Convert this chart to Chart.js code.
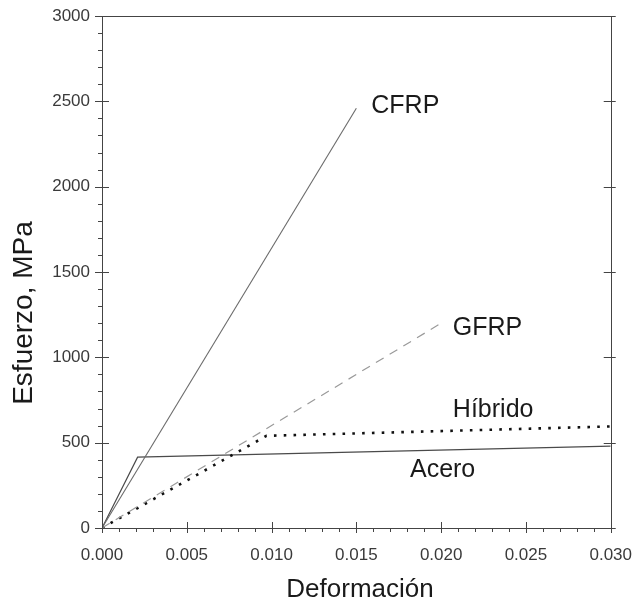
<!DOCTYPE html>
<html>
<head>
<meta charset="utf-8">
<script src="https://cdn.jsdelivr.net/npm/chart.js@4"></script>
<style>
  html, body { margin: 0; padding: 0; background: #fff; }
  #wrap { width: 641px; height: 602px; }
</style>
</head>
<body>
<div id="wrap"><canvas id="grafico"></canvas></div>
<script>
// valores
const cfrpX = [0, 0.015];
const cfrpY = [0, 2460];
const gfrpX = [0, 0.020];
const gfrpY = [0, 1200];
const hibridoX = [0, 0.0097, 0.030];
const hibridoY = [0, 540, 595];
const aceroX = [0, 0.0021, 0.030];
const aceroY = [0, 415, 480];

const yTicks = [0, 500, 1000, 1500, 2000, 2500, 3000];
const xTicks = [0, 0.005, 0.010, 0.015, 0.020, 0.025, 0.030];

// rotulos de cada curva (en coordenadas de datos)
const rotulos = [
  { texto: 'CFRP', x: 0.01588, y: 2431 },
  { texto: 'GFRP', x: 0.02069, y: 1133 },
  { texto: 'Híbrido', x: 0.02069, y: 653 },
  { texto: 'Acero', x: 0.01816, y: 298 }
];

const puntos = (xs, ys) => xs.map((x, i) => ({ x: x, y: ys[i] }));

const fuente = "'Liberation Sans', Arial, sans-serif";

const marco = {
  id: 'marco',
  afterDraw(chart) {
    const ctx = chart.ctx;
    const a = chart.chartArea;
    const sx = chart.scales.x;
    const sy = chart.scales.y;
    ctx.save();
    ctx.strokeStyle = '#444';
    ctx.lineWidth = 1;
    ctx.strokeRect(Math.round(a.left) + 0.5, Math.round(a.top) + 0.5,
      Math.round(a.right - a.left), Math.round(a.bottom - a.top));

    ctx.beginPath();
    for (let v = 0; v <= 3000; v += 100) {
      const py = Math.round(sy.getPixelForValue(v)) + 0.5;
      if (v % 500 === 0) {
        ctx.moveTo(a.left - 7, py); ctx.lineTo(a.left + 7, py);
        ctx.moveTo(a.right - 7, py); ctx.lineTo(a.right + 5, py);
      } else {
        ctx.moveTo(a.left - 4, py); ctx.lineTo(a.left, py);
      }
    }
    for (let i = 0; i <= 30; i++) {
      const px = Math.round(sx.getPixelForValue(i / 1000)) + 0.5;
      if (i % 5 === 0) {
        ctx.moveTo(px, a.bottom - 6); ctx.lineTo(px, a.bottom + 5);
      } else {
        ctx.moveTo(px, a.bottom); ctx.lineTo(px, a.bottom + 4);
      }
    }
    ctx.stroke();

    ctx.fillStyle = '#1a1a1a';
    ctx.font = '25px ' + fuente;
    ctx.textBaseline = 'alphabetic';
    ctx.textAlign = 'left';
    rotulos.forEach(r => {
      ctx.fillText(r.texto, sx.getPixelForValue(r.x), sy.getPixelForValue(r.y));
    });

    ctx.textAlign = 'center';
    ctx.textBaseline = 'middle';
    ctx.font = '26px ' + fuente;
    ctx.fillText('Deformación', 360, 590);
    ctx.translate(24, 313);
    ctx.rotate(-Math.PI / 2);
    ctx.font = '28px ' + fuente;
    ctx.fillText('Esfuerzo, MPa', 0, 0);
    ctx.restore();
  }
};

new Chart(document.getElementById('grafico'), {
  type: 'scatter',
  data: {
    datasets: [
      {
        label: 'CFRP',
        data: puntos(cfrpX, cfrpY),
        showLine: true,
        borderColor: '#6a6a6a',
        borderWidth: 1.1,
        pointRadius: 0
      },
      {
        label: 'GFRP',
        data: puntos(gfrpX, gfrpY),
        showLine: true,
        borderColor: '#9a9a9a',
        borderWidth: 1.2,
        borderDash: [9, 7],
        pointRadius: 0
      },
      {
        label: 'Híbrido',
        data: puntos(hibridoX, hibridoY),
        showLine: true,
        borderColor: '#111',
        borderWidth: 2.6,
        borderDash: [2.6, 7.2],
        pointRadius: 0
      },
      {
        label: 'Acero',
        data: puntos(aceroX, aceroY),
        showLine: true,
        borderColor: '#4a4a4a',
        borderWidth: 1.2,
        pointRadius: 0
      }
    ]
  },
  options: {
    responsive: true,
    maintainAspectRatio: false,
    animation: false,
    layout: { padding: { top: 16, right: 22, left: 0, bottom: 0 } },
    plugins: {
      legend: { display: false },
      tooltip: { enabled: false }
    },
    scales: {
      x: {
        type: 'linear',
        min: 0,
        max: 0.03,
        afterFit: s => { s.height = 74; },
        afterBuildTicks: s => { s.ticks = xTicks.map(v => ({ value: v })); },
        grid: { display: false },
        border: { display: false },
        ticks: {
          autoSkip: false,
          maxRotation: 0,
          padding: 9,
          color: '#3a3a3a',
          font: { family: fuente, size: 17 },
          callback: v => v.toFixed(3)
        }
      },
      y: {
        min: 0,
        max: 3000,
        afterFit: s => { s.width = 102; },
        afterBuildTicks: s => { s.ticks = yTicks.map(v => ({ value: v })); },
        grid: { display: false },
        border: { display: false },
        ticks: {
          padding: 4,
          color: '#3a3a3a',
          font: { family: fuente, size: 17 },
          callback: v => String(v)
        }
      }
    }
  },
  plugins: [marco]
});
</script>
</body>
</html>
